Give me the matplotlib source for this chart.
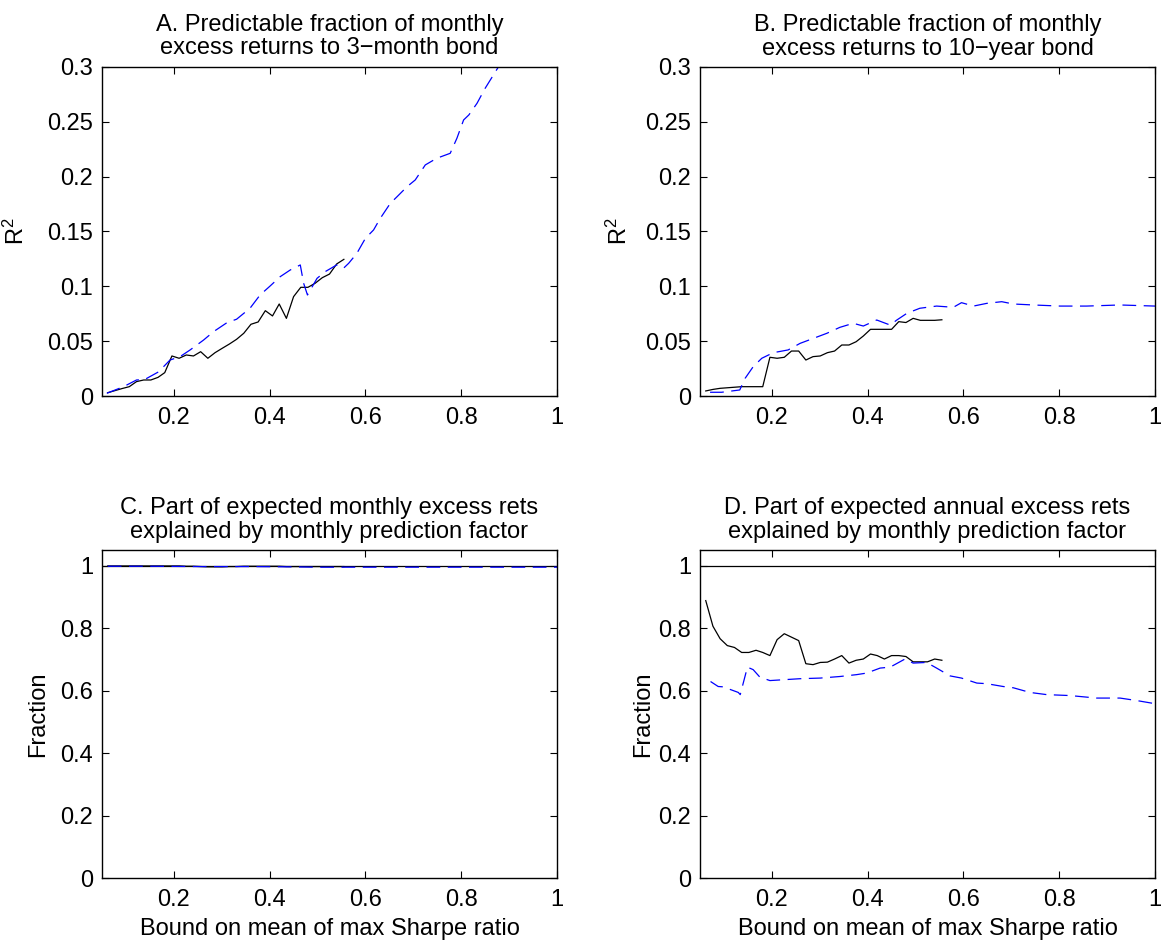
import matplotlib
matplotlib.use("Agg")
import matplotlib.pyplot as plt

plt.rcParams['font.family'] = ['Liberation Sans', 'DejaVu Sans']
plt.rcParams['font.size'] = 17
plt.rcParams['mathtext.default'] = 'regular'

# x grid of the solid (in-sample) series
x_solid = [0.062, 0.077, 0.092, 0.107, 0.122, 0.137, 0.152, 0.167, 0.181, 0.196,
           0.211, 0.226, 0.241, 0.256, 0.271, 0.286, 0.301, 0.316, 0.331, 0.346,
           0.361, 0.376, 0.391, 0.406, 0.420, 0.435, 0.450, 0.465, 0.480, 0.495,
           0.510, 0.525, 0.540, 0.555]

# Panel A: R^2, 3-month bond
a_solid = [0.0030, 0.0049, 0.0068, 0.0085, 0.0131, 0.0146, 0.0146, 0.0170, 0.0213, 0.0365,
           0.0344, 0.0374, 0.0365, 0.0404, 0.0344, 0.0395, 0.0435, 0.0474, 0.0517, 0.0572,
           0.0654, 0.0675, 0.0778, 0.0730, 0.0839, 0.0708, 0.0906, 0.0991, 0.0991, 0.1028,
           0.1079, 0.1112, 0.1204, 0.1246]
a_dash_x = [0.060, 0.095, 0.122, 0.139, 0.168, 0.192, 0.213, 0.234, 0.262, 0.283,
            0.311, 0.331, 0.359, 0.380, 0.401, 0.422, 0.443, 0.464, 0.471, 0.479,
            0.499, 0.516, 0.540, 0.554, 0.565, 0.582, 0.600, 0.617, 0.631, 0.652,
            0.666, 0.687, 0.704, 0.725, 0.749, 0.777, 0.791, 0.805, 0.816, 0.833,
            0.850, 0.878, 0.920, 0.960, 1.000]
a_dash = [0.0025, 0.0085, 0.0146, 0.0150, 0.0220, 0.0328, 0.0359, 0.0420, 0.0510, 0.0587,
          0.0669, 0.0700, 0.0800, 0.0921, 0.1003, 0.1088, 0.1149, 0.1195, 0.1028, 0.0921,
          0.1073, 0.1134, 0.1195, 0.1164, 0.1210, 0.1300, 0.1438, 0.1514, 0.1620, 0.1757,
          0.1817, 0.1909, 0.1970, 0.2107, 0.2168, 0.2213, 0.2350, 0.2517, 0.2563, 0.2669,
          0.2806, 0.3003, 0.3250, 0.3500, 0.3750]

# Panel B: R^2, 10-year bond
b_solid = [0.0046, 0.0060, 0.0070, 0.0075, 0.0080, 0.0085, 0.0085, 0.0085, 0.0085, 0.0353,
           0.0344, 0.0353, 0.0410, 0.0410, 0.0328, 0.0359, 0.0365, 0.0395, 0.0410, 0.0465,
           0.0465, 0.0495, 0.0547, 0.0608, 0.0608, 0.0608, 0.0608, 0.0678, 0.0670, 0.0708,
           0.0690, 0.0690, 0.0690, 0.0695]
b_dash_x = [0.071, 0.095, 0.133, 0.144, 0.161, 0.179, 0.203, 0.234, 0.259, 0.287,
            0.315, 0.342, 0.370, 0.391, 0.419, 0.447, 0.461, 0.482, 0.509, 0.544,
            0.579, 0.596, 0.621, 0.649, 0.680, 0.704, 0.746, 0.802, 0.857, 0.927, 1.000]
b_dash = [0.0034, 0.0034, 0.0055, 0.0160, 0.0267, 0.0344, 0.0395, 0.0420, 0.0480, 0.0526,
          0.0572, 0.0626, 0.0663, 0.0638, 0.0693, 0.0647, 0.0693, 0.0754, 0.0800, 0.0820,
          0.0809, 0.0851, 0.0820, 0.0845, 0.0860, 0.0839, 0.0830, 0.0820, 0.0820, 0.0830,
          0.0820]

# Panel C: fraction of expected monthly excess returns
c_solid = [0.999, 0.999, 0.999, 0.999, 0.999, 0.999, 0.999, 0.999, 0.999, 0.999,
           0.999, 0.998, 0.998, 0.997, 0.996, 0.996, 0.996, 0.997, 0.997, 0.998,
           0.998, 0.998, 0.998, 0.998, 0.998, 0.997, 0.997, 0.997, 0.997, 0.997,
           0.997, 0.997, 0.997, 0.997]
c_dash_x = [0.062, 0.150, 0.250, 0.350, 0.450, 0.500, 0.600, 0.700, 0.800, 0.900, 1.000]
c_dash = [0.998, 0.998, 0.997, 0.997, 0.996, 0.995, 0.995, 0.995, 0.995, 0.995, 0.995]

# Panel D: fraction of expected annual excess returns
d_solid = [0.888, 0.806, 0.766, 0.744, 0.738, 0.722, 0.722, 0.729, 0.722, 0.712,
           0.763, 0.782, 0.771, 0.760, 0.686, 0.683, 0.690, 0.691, 0.701, 0.712,
           0.688, 0.697, 0.701, 0.717, 0.712, 0.701, 0.712, 0.712, 0.709, 0.692,
           0.692, 0.692, 0.701, 0.697]
d_dash_x = [0.072, 0.088, 0.098, 0.130, 0.134, 0.149, 0.161, 0.175, 0.196, 0.217,
            0.259, 0.301, 0.342, 0.377, 0.398, 0.426, 0.447, 0.478, 0.495, 0.523,
            0.544, 0.572, 0.596, 0.628, 0.649, 0.683, 0.704, 0.739, 0.774, 0.823,
            0.878, 0.927, 0.962, 1.000]
d_dash = [0.629, 0.613, 0.612, 0.594, 0.587, 0.675, 0.667, 0.643, 0.632, 0.634,
          0.638, 0.640, 0.645, 0.651, 0.656, 0.672, 0.675, 0.701, 0.688, 0.690,
          0.672, 0.647, 0.640, 0.624, 0.622, 0.613, 0.609, 0.594, 0.587, 0.584,
          0.576, 0.576, 0.568, 0.558]

titles = ["A. Predictable fraction of monthly\nexcess returns to 3\u2212month bond",
          "B. Predictable fraction of monthly\nexcess returns to 10\u2212year bond",
          "C. Part of expected monthly excess rets\nexplained by monthly prediction factor",
          "D. Part of expected annual excess rets\nexplained by monthly prediction factor"]

x_ticks = [0.2, 0.4, 0.6, 0.8, 1.0]
x_tick_labels = ["0.2", "0.4", "0.6", "0.8", "1"]
r2_ticks = [0, 0.05, 0.1, 0.15, 0.2, 0.25, 0.3]
r2_tick_labels = ["0", "0.05", "0.1", "0.15", "0.2", "0.25", "0.3"]
fr_ticks = [0, 0.2, 0.4, 0.6, 0.8, 1.0]
fr_tick_labels = ["0", "0.2", "0.4", "0.6", "0.8", "1"]

W, H = 1161, 947
fig = plt.figure(figsize=(W / 100, H / 100), dpi=100)

def rect(x0, x1, y0, y1):
    return [x0 / W, 1 - y1 / H, (x1 - x0) / W, (y1 - y0) / H]

axA = fig.add_axes(rect(102, 557, 67, 396))
axB = fig.add_axes(rect(700, 1155, 67, 396))
axC = fig.add_axes(rect(102, 557, 550, 878))
axD = fig.add_axes(rect(700, 1155, 550, 878))

dash = (0, (11, 6))
solid_kw = dict(color='black', lw=0.9)
dash_kw = dict(color='#0000ff', lw=0.9, linestyle=dash)

axA.plot(x_solid, a_solid, **solid_kw)
axA.plot(a_dash_x, a_dash, **dash_kw)
axB.plot(x_solid, b_solid, **solid_kw)
axB.plot(b_dash_x, b_dash, **dash_kw)

for ax in (axC, axD):
    ax.axhline(1.0, color='black', lw=0.9)
axC.plot(x_solid, c_solid, **solid_kw)
axC.plot(c_dash_x, c_dash, **dash_kw)
axD.plot(x_solid, d_solid, **solid_kw)
axD.plot(d_dash_x, d_dash, **dash_kw)

ylabel_x = [-0.160, -0.150, -0.116, -0.101]

for i, ax in enumerate((axA, axB, axC, axD)):
    ax.set_xlim(0.05, 1.0)
    ax.set_xticks(x_ticks)
    ax.set_xticklabels(x_tick_labels)
    if i < 2:
        ax.set_ylim(0, 0.3)
        ax.set_yticks(r2_ticks)
        ax.set_yticklabels(r2_tick_labels)
        ax.set_ylabel("R$^2$")
    else:
        ax.set_ylim(0, 1.05)
        ax.set_yticks(fr_ticks)
        ax.set_yticklabels(fr_tick_labels)
        ax.set_ylabel("Fraction")
        ax.set_xlabel("Bound on mean of max Sharpe ratio", labelpad=5)
    ax.yaxis.set_label_coords(ylabel_x[i], 0.5)
    ax.set_title(titles[i], fontsize=17, pad=9, linespacing=1.1)
    ax.tick_params(direction='in', top=True, right=True, length=5, width=0.8, labelsize=17)
    ax.tick_params(axis='x', pad=8)
    ax.tick_params(axis='y', pad=6.5)
    for s in ax.spines.values():
        s.set_linewidth(1.0)

fig.savefig("out.png", dpi=100)
